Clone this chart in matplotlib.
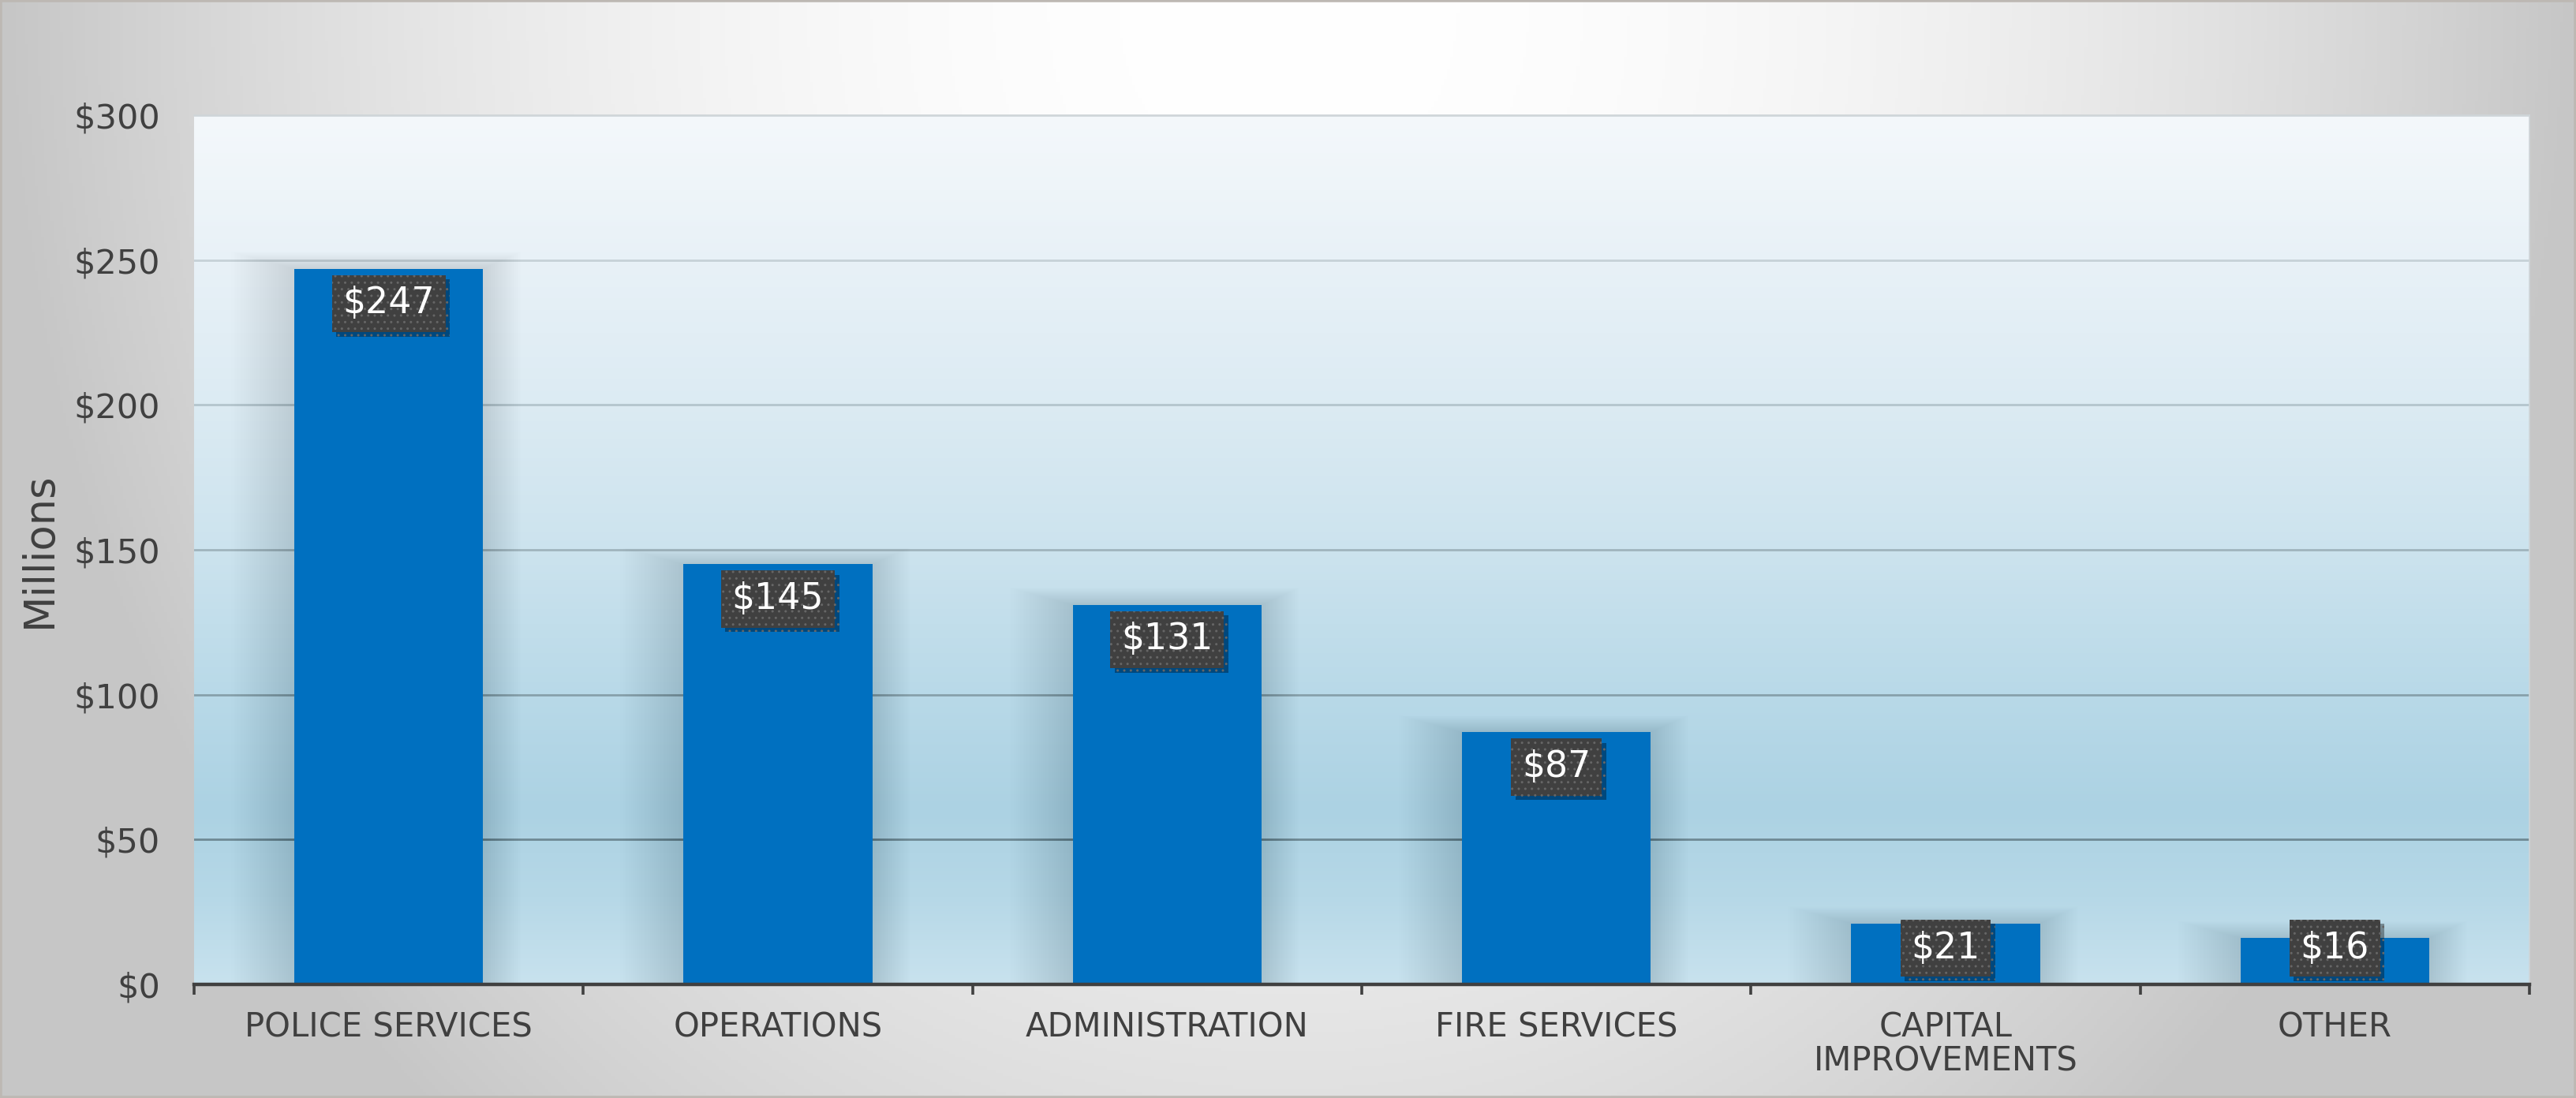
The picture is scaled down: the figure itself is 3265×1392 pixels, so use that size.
import numpy as np
import matplotlib
matplotlib.use("Agg")
import matplotlib.pyplot as plt
from matplotlib.patches import Rectangle
from matplotlib import patheffects as pe

# ---- data ----
categories = ["POLICE SERVICES", "OPERATIONS", "ADMINISTRATION", "FIRE SERVICES",
              "CAPITAL\nIMPROVEMENTS", "OTHER"]
values = [247, 145, 131, 87, 21, 16]
yticks = [0, 50, 100, 150, 200, 250, 300]
ytick_labels = ["$0", "$50", "$100", "$150", "$200", "$250", "$300"]
ylabel = "Millions"

plt.rcParams['font.family'] = ['DejaVu Sans']
TXT = '#404040'

W, H = 3265, 1392
fig = plt.figure(figsize=(W / 100, H / 100), dpi=100)

# ---- figure background: radial grey gradient, light at top centre ----
bg = fig.add_axes([0, 0, 1, 1], zorder=-10)
yy, xx = np.mgrid[0:H:4, 0:W:4]
d = np.sqrt(((xx - W * 0.5) / 1630.0) ** 2 + ((yy - 0) / 1900.0) ** 2)
f = np.clip(d ** 2, 0, 1)
v = (255 - 57 * f) / 255.0
bg.imshow(np.dstack([v, v, v]), extent=[0, 1, 0, 1], aspect='auto', origin='upper')
bg.set_xlim(0, 1); bg.set_ylim(0, 1)
bg.axis('off')

# ---- main axes ----
L, R, T, B = 246, 3206, 146, 1248
ax = fig.add_axes([L / W, 1 - B / H, (R - L) / W, (B - T) / H])

# plot-area vertical gradient
stops = np.array([0.0, 0.1, 0.2, 0.33, 0.5, 0.67, 0.83, 1.0])
cols = np.array([(200, 226, 238), (182, 216, 231), (172, 210, 227), (184, 217, 232),
                 (204, 227, 238), (220, 235, 243), (232, 241, 247), (244, 248, 251)]) / 255.0
t = np.linspace(0, 1, 400)
grad = np.stack([np.interp(t, stops, cols[:, i]) for i in range(3)], axis=-1)[::-1]
grad = np.repeat(grad[:, None, :], 2, axis=1)
ax.imshow(grad, extent=[0, 1, 0, 1], transform=ax.transAxes, aspect='auto', zorder=0)

x = np.arange(len(categories))
vals = np.array(values, dtype=float)
bw = 0.485

# soft glow-like shadows around bars
for s in np.linspace(0.004, 0.13, 30):
    ax.bar(x - 0.25 * s, vals + 45 * s, width=bw + 2 * s, color='#1f3f50',
           alpha=0.0055, zorder=2, linewidth=0)

ax.bar(x, vals, width=bw, color='#0070c0', zorder=3, linewidth=0)

ax.set_xlim(-0.5, len(categories) - 0.5)
ax.set_ylim(0, 300)

# grid
ax.set_yticks(yticks)
ax.set_yticklabels(ytick_labels)
ax.yaxis.grid(True, linewidth=2.0)
ax.set_axisbelow(True)
grid_cols = ['#6c8692', '#6f8994', '#87a0ab', '#a0b4bd', '#b3c4cc', '#c6d1d7', '#cfd6da']
for gl, c in zip(ax.get_ygridlines(), grid_cols):
    gl.set_color(c)
    gl.set_zorder(1)

# spines
ax.spines['left'].set_visible(False)
for sp in ['top', 'right']:
    ax.spines[sp].set_color('#cfd5d8')
    ax.spines[sp].set_linewidth(1.2)
ax.spines['bottom'].set_color(TXT)
ax.spines['bottom'].set_linewidth(3.2)
ax.spines['bottom'].set_zorder(5)

# ticks
ax.set_xticks(x)
ax.set_xticklabels(categories, linespacing=1.05)
ax.set_xticks(np.arange(-0.5, len(categories)), minor=True)
ax.tick_params(axis='x', which='major', length=0, pad=24, labelsize=30, labelcolor=TXT)
ax.tick_params(axis='x', which='minor', length=9, width=2.6, color=TXT, direction='out')
ax.tick_params(axis='y', length=0, pad=31, labelsize=31, labelcolor=TXT)

fig.text(50 / W, 1 - 697 / H, ylabel, rotation=90, ha='center', va='center',
         fontsize=38, color=TXT)

# value labels
for xi, v in zip(x, values):
    ypos = max(v - 12, 12.5)
    tx = ax.text(xi, ypos, f"${v}", ha='center', va='center', fontsize=33,
                 color='white', zorder=7,
                 bbox=dict(boxstyle='square,pad=0.3', fc='#404040', ec='#666666',
                           lw=0, hatch='..'))
    tx.get_bbox_patch().set_path_effects([
        pe.SimplePatchShadow(offset=(4, -4), shadow_rgbFace='black', alpha=0.35),
        pe.Normal()])

# figure border
fig.patches.append(Rectangle((0, 0), 1, 1, transform=fig.transFigure, fill=False,
                             edgecolor='#bdb8b3', linewidth=4, zorder=20))

fig.savefig("out.png", dpi=100)
